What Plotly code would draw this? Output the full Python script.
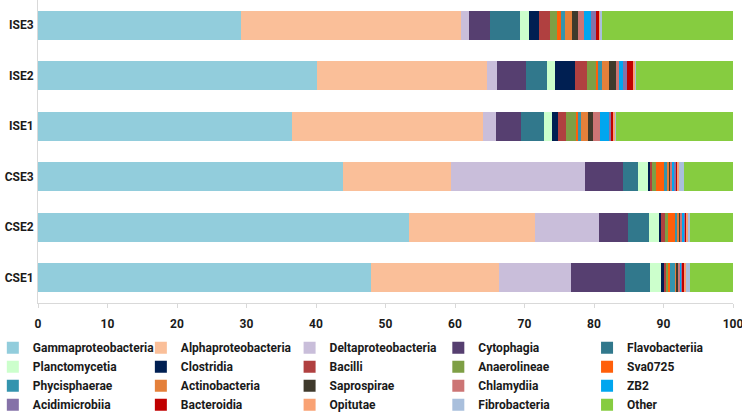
import plotly.graph_objects as go

samples = ["CSE1", "CSE2", "CSE3", "ISE1", "ISE2", "ISE3"]

taxa = ["Gammaproteobacteria", "Alphaproteobacteria", "Deltaproteobacteria", "Cytophagia",
        "Flavobacteriia", "Planctomycetia", "Clostridia", "Bacilli", "Anaerolineae", "Sva0725",
        "Phycisphaerae", "Actinobacteria", "Saprospirae", "Chlamydiia", "ZB2", "Acidimicrobiia",
        "Bacteroidia", "Opitutae", "Fibrobacteria", "Other"]

colors = ["#92CDDC", "#FABF99", "#C9BEDA", "#563F70", "#31788C", "#CCFFCC", "#001F52", "#B04040",
          "#7E9F45", "#FF5F0A", "#3494AE", "#E4803A", "#3F3A2C", "#CC7575", "#00A6EF", "#8572A8",
          "#C00000", "#F9A274", "#A9BFDC", "#86CC40"]

# percentage abundance per sample, order: CSE1, CSE2, CSE3, ISE1, ISE2, ISE3
gammaproteobacteria = [47.9, 53.4, 43.9, 36.5, 40.1, 29.2]
alphaproteobacteria = [18.5, 18.1, 15.5, 27.6, 24.5, 31.6]
deltaproteobacteria = [10.3, 9.2, 19.3, 1.8, 1.4, 1.2]
cytophagia = [7.8, 4.2, 5.4, 3.6, 4.2, 3.0]
flavobacteriia = [3.6, 3.0, 2.3, 3.3, 3.1, 4.4]
planctomycetia = [1.5, 1.5, 1.4, 1.2, 1.1, 1.2]
clostridia = [0.4, 0.3, 0.2, 0.8, 2.8, 1.5]
bacilli = [0.4, 0.5, 0.3, 1.2, 1.8, 1.6]
anaerolineae = [0.3, 0.4, 0.6, 1.4, 1.4, 1.0]
sva0725 = [0.3, 1.1, 1.1, 0.3, 0.2, 0.6]
phycisphaerae = [0.7, 0.3, 0.5, 0.5, 0.6, 0.5]
actinobacteria = [0.2, 0.3, 0.3, 0.9, 1.0, 1.1]
saprospirae = [0.2, 0.2, 0.2, 0.7, 1.0, 0.8]
chlamydiia = [0.3, 0.2, 0.3, 1.1, 0.4, 0.8]
zb2 = [0.2, 0.3, 0.2, 1.2, 0.5, 1.0]
acidimicrobiia = [0.2, 0.1, 0.3, 0.3, 0.6, 0.8]
bacteroidia = [0.2, 0.2, 0.2, 0.3, 1.0, 0.5]
opitutae = [0.2, 0.2, 0.2, 0.4, 0.2, 0.2]
fibrobacteria = [0.6, 0.3, 0.8, 0.1, 0.1, 0.1]
other = [6.2, 6.2, 7.0, 16.8, 14.0, 18.9]

series = [gammaproteobacteria, alphaproteobacteria, deltaproteobacteria, cytophagia,
          flavobacteriia, planctomycetia, clostridia, bacilli, anaerolineae, sva0725,
          phycisphaerae, actinobacteria, saprospirae, chlamydiia, zb2, acidimicrobiia,
          bacteroidia, opitutae, fibrobacteria, other]

x_ticks = [0, 10, 20, 30, 40, 50, 60, 70, 80, 90, 100]

FONT = "Roboto, 'Open Sans', sans-serif"
TXT = "#1a1a1a"
N_COLS = 5
legend_x = [-0.0650, 0.1480, 0.3620, 0.5760, 0.7900]
legend_y = -0.100

fig = go.Figure()
for i, (name, vals, col) in enumerate(zip(taxa, series, colors)):
    col_idx = i % N_COLS
    fig.add_trace(go.Bar(
        y=samples, x=vals, name=name, orientation="h",
        marker=dict(color=col, line=dict(width=0)),
        legend="legend" if col_idx == 0 else f"legend{col_idx + 1}",
    ))

layout_legends = {}
for c in range(N_COLS):
    key = "legend" if c == 0 else f"legend{c + 1}"
    layout_legends[key] = dict(
        orientation="v", traceorder="normal",
        x=legend_x[c], y=legend_y, xanchor="left", yanchor="top",
        font=dict(family=FONT, size=12, color=TXT, weight="bold"),
        tracegroupgap=0, itemwidth=30, bgcolor="rgba(0,0,0,0)",
    )

fig.update_layout(
    barmode="stack",
    bargap=0.42,
    width=742, height=414,
    margin=dict(l=38, r=9, t=0, b=111, autoexpand=False),
    plot_bgcolor="white", paper_bgcolor="white",
    font=dict(family=FONT, size=12, color=TXT),
    xaxis=dict(range=[0, 100], tickvals=x_ticks, showgrid=False, zeroline=False,
               automargin=False, ticklabeloverflow="allow",
               showline=True, linecolor="#d9d9d9", linewidth=1,
               ticks="outside", tickcolor="#d9d9d9", ticklen=4, ticklabelstandoff=6,
               tickfont=dict(family=FONT, size=12, color=TXT, weight="bold")),
    yaxis=dict(showgrid=False, zeroline=False, showline=True, linecolor="#d9d9d9",
               automargin=False, ticks="", ticklabelstandoff=1,
               tickfont=dict(family=FONT, size=12, color=TXT, weight="bold")),
    **layout_legends,
)

fig.write_html("out.html", config={"displayModeBar": False},
               post_script="document.body.style.margin='0';")
